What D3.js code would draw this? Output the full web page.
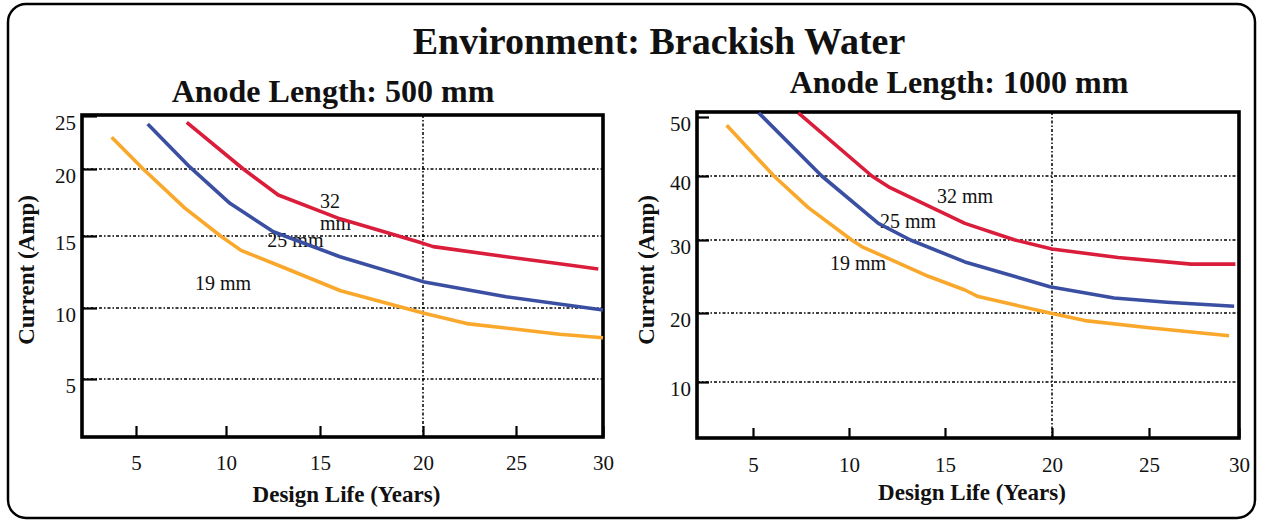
<!DOCTYPE html>
<html>
<head>
<meta charset="utf-8">
<script src="https://cdn.jsdelivr.net/npm/d3@7"></script>
<style>
  html, body { margin: 0; padding: 0; background: #fff; }
  svg text { font-family: "Liberation Serif", "Times New Roman", serif; fill: #111; }
</style>
</head>
<body>
<script>
// ---------------- DATA ----------------
const mainTitle = "Environment: Brackish Water";
const panelTitles = ["Anode Length: 500 mm", "Anode Length: 1000 mm"];
const xLabel = "Design Life (Years)";
const yLabel = "Current (Amp)";
const seriesNames = ["19 mm", "25 mm", "32 mm"];

const xTicks = [5, 10, 15, 20, 25, 30];
const leftYTicks = [5, 10, 15, 20, 25];
const rightYTicks = [10, 20, 30, 40, 50];

// Anode length 500 mm : [design life (years), current (A)]
const left19 = [[3.65, 23.0], [5.4, 20.0], [7.7, 17.1], [9.7, 15.0], [10.8, 14.0], [13.0, 12.85], [16.0, 11.2], [20.0, 9.65], [22.35, 8.9], [25.4, 8.45], [27.5, 8.15], [30.0, 7.9]];
const left25 = [[5.65, 24.25], [8.0, 20.17], [10.21, 17.44], [12.52, 15.32], [15.97, 13.56], [20.0, 11.83], [24.47, 10.78], [30.0, 9.86]];
const left32 = [[7.82, 24.4], [10.92, 20.0], [12.78, 18.06], [15.97, 16.28], [20.0, 14.49], [20.55, 14.26], [24.47, 13.56], [27.5, 13.07], [29.73, 12.71]];

// Anode length 1000 mm
const right19 = [[3.59, 48.6], [6.09, 40.0], [7.88, 35.05], [10.14, 30.0], [10.66, 29.1], [14.13, 25.03], [15.93, 23.15], [16.55, 22.25], [19.9, 20.0], [21.7, 18.9], [25.0, 17.85], [29.45, 16.7]];
const right25 = [[5.3, 50.7], [8.58, 40.0], [11.53, 32.6], [13.2, 30.0], [15.93, 27.0], [19.9, 23.6], [23.2, 22.05], [26.0, 21.47], [29.73, 20.92]];
const right32 = [[7.36, 50.7], [11.19, 40.0], [12.14, 38.17], [15.93, 32.6], [18.27, 30.0], [20.0, 28.77], [23.4, 27.6], [27.35, 26.7], [29.8, 26.7]];

// label anchor points (data units) for the series annotations
const leftLabelPos = [[8.28, 11.25], [12.2, 14.24], [15.0, 17.09]];
const rightLabelPos = [[9.01, 25.9], [11.61, 31.8], [14.58, 35.8]];

// ---------------- LAYOUT ----------------
const colors = ["#f9a82b", "#3b4fa2", "#d91d3b"];
const W = 1262, H = 525;

const svg = d3.select("body").append("svg").attr("width", W).attr("height", H);

svg.append("rect")
  .attr("x", 8).attr("y", 4).attr("width", 1247).attr("height", 514)
  .attr("rx", 18).attr("ry", 18)
  .attr("fill", "none").attr("stroke", "#000").attr("stroke-width", 2.5);

svg.append("text").attr("x", 659).attr("y", 54).attr("text-anchor", "middle")
  .attr("font-size", 38).attr("font-weight", "bold").text(mainTitle);

const panels = [
  {
    title: panelTitles[0], titleX: 333, titleY: 102,
    xDomain: [2, 5, 10, 15, 20, 25, 30], xRange: [82, 136, 226, 320, 423, 516, 603],
    yDomain: [1, 5, 10, 15, 20, 25], yRange: [437, 379, 308, 236, 169, 116],
    top: 115, bottom: 437, left: 82, right: 603,
    yTicks: leftYTicks, gridY: [5, 10, 15, 20], yTickLen: 15, xTickLen: 11, xPad: 18,
    series: [left19, left25, left32], labels: leftLabelPos, twoLine32: true,
    yTitleX: 34, xTitleY: 502
  },
  {
    title: panelTitles[1], titleX: 959, titleY: 93,
    xDomain: [2, 5, 10, 15, 20, 25, 30], xRange: [697, 753, 849, 945, 1052, 1149, 1239],
    yDomain: [2, 10, 20, 30, 40, 50], yRange: [438, 382, 313, 240, 176, 117],
    top: 112, bottom: 438, left: 697, right: 1239,
    yTicks: rightYTicks, gridY: [10, 20, 30, 40], yTickLen: 12, xTickLen: 10, xPad: 19,
    series: [right19, right25, right32], labels: rightLabelPos, twoLine32: false,
    yTitleX: 654, xTitleY: 500
  }
];

panels.forEach(p => {
  const x = d3.scaleLinear().domain(p.xDomain).range(p.xRange);
  const y = d3.scaleLinear().domain(p.yDomain).range(p.yRange);
  const g = svg.append("g");

  // panel title
  g.append("text").attr("x", p.titleX).attr("y", p.titleY).attr("text-anchor", "middle")
    .attr("font-size", 32).attr("font-weight", "bold").text(p.title);

  // dotted grid lines
  const dash = "3,2,1.5,2";
  g.selectAll(".hg").data(p.gridY).join("line")
    .attr("x1", p.left).attr("x2", p.right)
    .attr("y1", d => y(d)).attr("y2", d => y(d))
    .attr("stroke", "#000").attr("stroke-width", 1.5).attr("stroke-dasharray", dash);
  g.append("line")
    .attr("x1", x(20)).attr("x2", x(20)).attr("y1", p.top).attr("y2", p.bottom)
    .attr("stroke", "#000").attr("stroke-width", 1.5).attr("stroke-dasharray", dash);

  // axes
  const yAxis = g.append("g").attr("transform", `translate(${p.left},0)`)
    .call(d3.axisLeft(y).tickValues(p.yTicks).tickSize(-p.yTickLen).tickPadding(6));
  yAxis.select(".domain").remove();
  yAxis.selectAll(".tick line").attr("stroke", "#000").attr("stroke-width", 2.2);
  yAxis.selectAll(".tick text").attr("font-size", 21).attr("dy", "0.66em")
    .style("font-family", "'Liberation Serif', 'Times New Roman', serif").attr("fill", "#111");

  const xAxis = g.append("g").attr("transform", `translate(0,${p.bottom})`)
    .call(d3.axisBottom(x).tickValues(xTicks).tickSize(-p.xTickLen).tickPadding(p.xPad));
  xAxis.select(".domain").remove();
  xAxis.selectAll(".tick line").attr("stroke", "#000").attr("stroke-width", 2.2);
  xAxis.selectAll(".tick text").attr("font-size", 21)
    .style("font-family", "'Liberation Serif', 'Times New Roman', serif").attr("fill", "#111");

  // plot box
  g.append("rect").attr("x", p.left).attr("y", p.top)
    .attr("width", p.right - p.left).attr("height", p.bottom - p.top)
    .attr("fill", "none").attr("stroke", "#000").attr("stroke-width", 3.6);

  // series labels
  p.labels.forEach((pos, i) => {
    if (i === 2 && p.twoLine32) {
      const t = g.append("text").attr("x", x(pos[0])).attr("y", y(pos[1])).attr("font-size", 20);
      t.append("tspan").attr("x", x(pos[0])).text("32");
      t.append("tspan").attr("x", x(pos[0])).attr("dy", 22).text("mm");
    } else {
      g.append("text").attr("x", x(pos[0])).attr("y", y(pos[1])).attr("font-size", 20).text(seriesNames[i]);
    }
  });

  // curves
  const line = d3.line().x(d => x(d[0])).y(d => y(d[1]));
  p.series.forEach((s, i) => {
    g.append("path").datum(s).attr("d", line)
      .attr("fill", "none").attr("stroke", colors[i]).attr("stroke-width", 3.6)
      .attr("stroke-linejoin", "round");
  });

  // axis titles
  g.append("text").attr("x", (p.left + p.right) / 2 + 4).attr("y", p.xTitleY).attr("text-anchor", "middle")
    .attr("font-size", 23).attr("font-weight", "bold").text(xLabel);
  g.append("text").attr("transform", `translate(${p.yTitleX},270) rotate(-90)`)
    .attr("text-anchor", "middle").attr("font-size", 23).attr("font-weight", "bold").text(yLabel);
});
</script>
</body>
</html>
